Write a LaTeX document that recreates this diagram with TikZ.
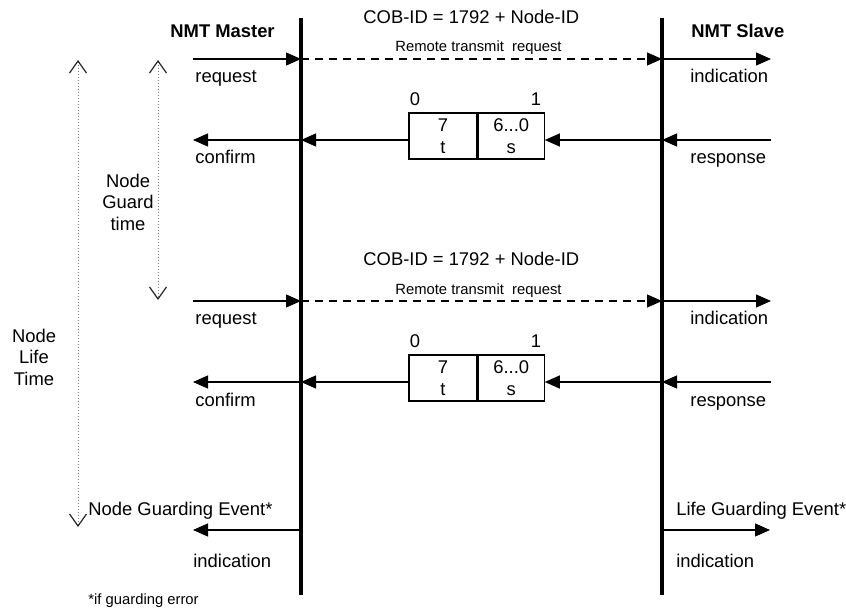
\documentclass[tikz,border=0pt]{standalone}
\usepackage{fontspec}
\setmainfont{Liberation Sans}
\usetikzlibrary{arrows.meta}
\tikzset{
	lifeline/.style = {line width = 2pt},
	msg/.style = {-{Triangle[length = 7.5pt, width = 6.5pt]}, line width = 0.6pt},
	rtr/.style = {msg, dash pattern = on 4pt off 3pt},
	barb/.tip = {Straight Barb[length = 6pt, width = 8.5pt, color = black!85, line width = 0.6pt]},
	timespan/.style = {barb-barb, densely dotted, gray, line width = 0.5pt},
	txt/.style = {inner sep = 0pt, anchor = base west, font = \fontsize{9.2}{10.75}\selectfont},
	head/.style = {txt, font = \fontsize{9.2}{10.75}\selectfont\bfseries},
	note/.style = {txt, font = \fontsize{7.4}{9}\selectfont},
	cell/.style = {draw, line width = 0.6pt, minimum height = 23pt, inner sep = 0pt,
		align = center, font = \fontsize{9.2}{11}\selectfont}
}
\begin{document}
\begin{tikzpicture}[x = 0.5pt, y = -0.5pt]
	\useasboundingbox (0, 0) rectangle (846, 609);

	% master and slave
	\coordinate (mtop) at (301, 18);
	\coordinate (mbot) at (301, 595);
	\coordinate (stop) at (662, 18);
	\coordinate (sbot) at (662, 595);
	\draw [lifeline] (mtop) -- (mbot);
	\draw [lifeline] (stop) -- (sbot);
	\node [head] (master) at (170, 38) {NMT Master};
	\node [head] (slave) at (691, 38) {NMT Slave};

	\foreach \k/\dy in {1/0, 2/242}{
		% request, remote frame, indication
		\coordinate (lq\k) at (193, {59 + \dy});
		\coordinate (mq\k) at (301, {59 + \dy});
		\coordinate (sq\k) at (662, {59 + \dy});
		\coordinate (rq\k) at (771, {59 + \dy});
		\draw [msg] (lq\k) -- (mq\k);
		\draw [rtr] (mq\k) -- (sq\k);
		\draw [msg] (sq\k) -- (rq\k);
		\node [txt] (cob\k) at (363, {24 + \dy}) {COB-ID = 1792 + Node-ID};
		\node [note] (rtr\k) at (395, {52 + \dy}) {Remote transmit\ \ request};
		\node [txt] (req\k) at (195, {83 + \dy}) {request};
		\node [txt] (ind\k) at (690, {83 + \dy}) {indication};

		% response, data byte, confirm
		\node [cell, minimum width = 34pt] (tb\k) at (443, {136 + \dy}) {7\\t};
		\node [cell, minimum width = 33pt, anchor = west] (sb\k) at (tb\k.east) {6...0\\s};
		\node [txt, anchor = base] (bit0\k) at (415, {106 + \dy}) {0};
		\node [txt, anchor = base] (bit1\k) at (536, {106 + \dy}) {1};
		\coordinate (lr\k) at (193, {140 + \dy});
		\coordinate (mr\k) at (301, {140 + \dy});
		\coordinate (sr\k) at (662, {140 + \dy});
		\coordinate (rr\k) at (771, {140 + \dy});
		\draw [msg] (rr\k) -- (sr\k);
		\draw [msg] (sr\k) -- (sr\k -| sb\k.east);
		\draw [msg] (tb\k.west |- mr\k) -- (mr\k);
		\draw [msg] (mr\k) -- (lr\k);
		\node [txt] (conf\k) at (195, {164 + \dy}) {confirm};
		\node [txt] (resp\k) at (690, {164 + \dy}) {response};
	}

	% guard and life time
	\coordinate (lifetop) at (78, 60);
	\coordinate (lifebot) at (78, 527);
	\coordinate (guardtop) at (158, 60);
	\coordinate (guardbot) at (158, 300);
	\draw [timespan] (lifetop) -- (lifebot);
	\draw [timespan] (guardtop) -- (guardbot);
	\node [txt, anchor = center, align = center] (guard) at (128, 202) {Node\\Guard\\time};
	\node [txt, anchor = center, align = center] (life) at (34, 357) {Node\\Life\\Time};

	% guarding events
	\coordinate (lev) at (193, 530);
	\coordinate (mev) at (301, 530);
	\coordinate (sev) at (662, 530);
	\coordinate (rev) at (770, 530);
	\draw [msg] (mev) -- (lev);
	\draw [msg] (sev) -- (rev);
	\node [txt] (nge) at (88, 515) {Node Guarding Event*};
	\node [txt] (lge) at (676, 515) {Life Guarding Event*};
	\node [txt] (mind) at (193, 567) {indication};
	\node [txt] (sind) at (676, 567) {indication};
	\node [note] (foot) at (88, 604) {*if guarding error};
\end{tikzpicture}
\end{document}
